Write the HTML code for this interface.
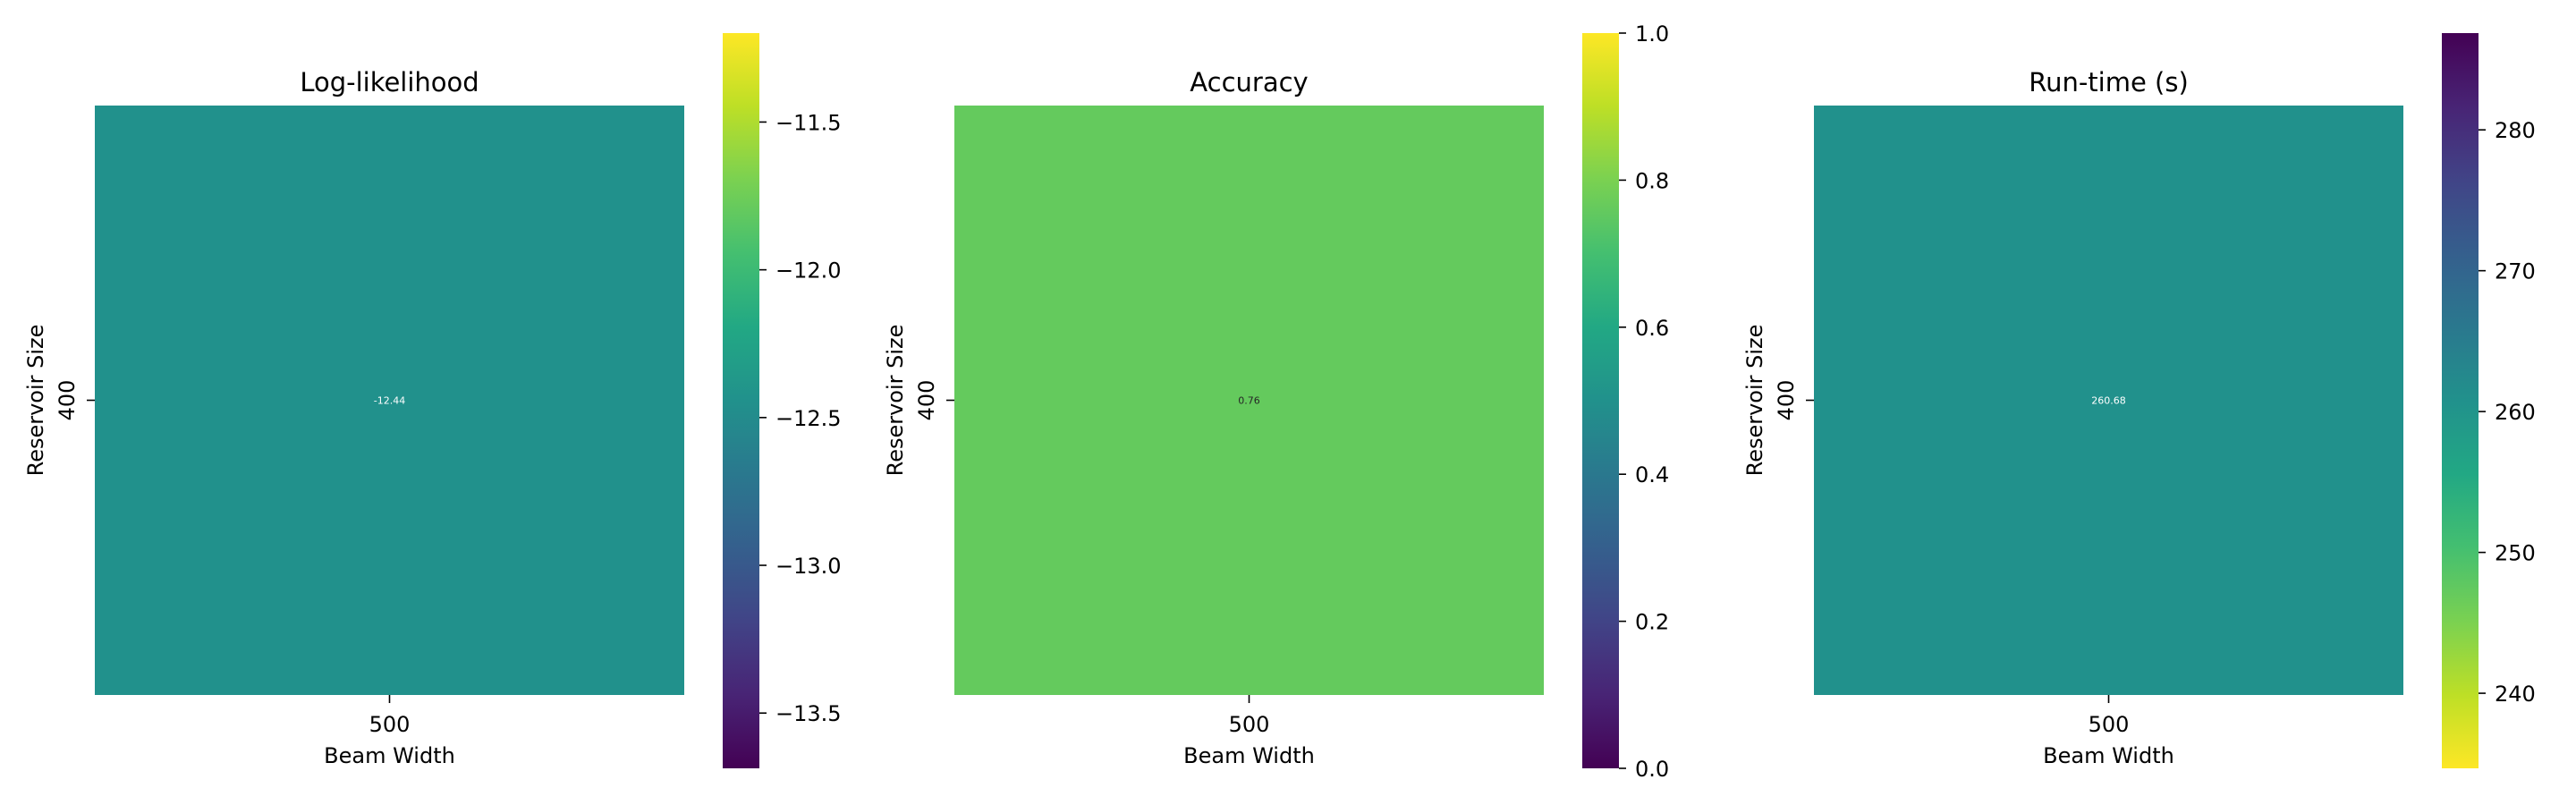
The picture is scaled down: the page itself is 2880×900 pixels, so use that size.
<!DOCTYPE html>
<html><head><meta charset="utf-8">
<style>
html,body{margin:0;padding:0;background:#fff;}
svg{display:block;font-family:"DejaVu Sans","Liberation Sans",sans-serif;}
</style></head>
<body>
<svg id="chart" width="2880" height="900" viewBox="0 0 2880 900" xmlns="http://www.w3.org/2000/svg"></svg>
<script>
const titles = ["Log-likelihood", "Accuracy", "Run-time (s)"];
const xCategories = ["500"];
const yCategories = ["400"];
const cellValues = [-12.44, 0.76, 260.68];
const cellLabels = ["-12.44", "0.76", "260.68"];
const colorMins = [-13.687, 0, 234.67];
const colorMaxs = [-11.199, 1, 286.87];
const reversedMaps = [false, false, true];
const tickValues = [[-11.5, -12.0, -12.5, -13.0, -13.5], [0, 0.2, 0.4, 0.6, 0.8, 1.0], [240, 250, 260, 270, 280]];
const tickLabels = [["\u221211.5", "\u221212.0", "\u221212.5", "\u221213.0", "\u221213.5"], ["0.0", "0.2", "0.4", "0.6", "0.8", "1.0"], ["240", "250", "260", "270", "280"]];
const annotColors = ["#ffffff", "#262626", "#ffffff"];

const VIR = ["#440154","#482475","#414487","#355f8d","#2a788e","#21918c","#22a884","#44bf70","#7ad151","#bddf26","#fde725"];
function hex(c){return [parseInt(c.slice(1,3),16),parseInt(c.slice(3,5),16),parseInt(c.slice(5,7),16)];}
function viridis(t){t=Math.max(0,Math.min(1,t));const p=t*10,i=Math.min(9,Math.floor(p)),f=p-i;const a=hex(VIR[i]),b=hex(VIR[i+1]);return "rgb("+a.map((v,k)=>Math.round(v+(b[k]-v)*f)).join(",")+")";}

const NS="http://www.w3.org/2000/svg";
const svg=document.getElementById("chart");
function mk(tag,attrs,parent){const e=document.createElementNS(NS,tag);for(const k in attrs)e.setAttribute(k,attrs[k]);(parent||svg).appendChild(e);return e;}

const panelLeft=[106,1067,2028], hmSize=659, hmTop=118;
const cbOffset=702, cbW=41, cbTop=37, cbBot=859;
const defs=mk("defs",{});

for(let p=0;p<3;p++){
  const g=mk("g",{});
  
  
  const L=panelLeft[p];
  const xScale=i=>L+hmSize*(i+0.5)/xCategories.length;
  const yScale=i=>hmTop+hmSize*(i+0.5)/yCategories.length;
  const cw=hmSize/xCategories.length, ch=hmSize/yCategories.length;
  const norm=v=>{let t=(v-colorMins[p])/(colorMaxs[p]-colorMins[p]);return reversedMaps[p]?1-t:t;};
  for(let yi=0;yi<yCategories.length;yi++)for(let xi=0;xi<xCategories.length;xi++){
    const r=mk("rect",{x:xScale(xi)-cw/2,y:yScale(yi)-ch/2,width:cw,height:ch,fill:viridis(norm(cellValues[p]))},g);
    
    
    const t=mk("text",{x:xScale(xi),y:yScale(yi)+4,"text-anchor":"middle","font-size":11,fill:annotColors[p]},g);
    t.textContent=cellLabels[p];
    
    
  }
  const ti=mk("text",{x:L+hmSize/2,y:102,"text-anchor":"middle","font-size":29,fill:"#000"},g);
  ti.textContent=titles[p];
  
  
  xCategories.forEach((c,i)=>{
    mk("line",{x1:xScale(i),x2:xScale(i),y1:hmTop+hmSize,y2:hmTop+hmSize+9,stroke:"#000","stroke-width":1.6},g);
    const t=mk("text",{x:xScale(i),y:818,"text-anchor":"middle","font-size":24,fill:"#000"},g);
    t.textContent=c;
    
    
  });
  const xl=mk("text",{x:L+hmSize/2,y:853,"text-anchor":"middle","font-size":24,fill:"#000"},g);
  xl.textContent="Beam Width";
  
  
  yCategories.forEach((c,i)=>{
    mk("line",{x1:L-9,x2:L,y1:yScale(i),y2:yScale(i),stroke:"#000","stroke-width":1.6},g);
    const t=mk("text",{x:0,y:0,"text-anchor":"middle","font-size":24,fill:"#000",transform:"translate("+(L-23)+","+yScale(i)+") rotate(-90)"},g);
    t.textContent=c;
    
    
  });
  const yl=mk("text",{x:0,y:0,"text-anchor":"middle","font-size":24,fill:"#000",transform:"translate("+(L-58)+","+(hmTop+hmSize/2)+") rotate(-90)"},g);
  yl.textContent="Reservoir Size";
  
  
  const grad=mk("linearGradient",{id:"grad"+p,x1:0,y1:1,x2:0,y2:0},defs);
  for(let s=0;s<=20;s++){const t=s/20;mk("stop",{offset:t,"stop-color":viridis(reversedMaps[p]?1-t:t)},grad);}
  const cx=L+cbOffset;
  const cb=mk("rect",{x:cx,y:cbTop,width:cbW,height:cbBot-cbTop,fill:"url(#grad"+p+")"},g);
  
  
  const cScale=v=>cbBot-(v-colorMins[p])/(colorMaxs[p]-colorMins[p])*(cbBot-cbTop);
  tickValues[p].forEach((v,i)=>{
    const y=cScale(v);
    mk("line",{x1:cx+cbW,x2:cx+cbW+8,y1:y,y2:y,stroke:"#000","stroke-width":1.6},g);
    const t=mk("text",{x:cx+cbW+18,y:y+9,"font-size":24,fill:"#000"},g);
    t.textContent=tickLabels[p][i];
    
    
  });
}
</script>
</body></html>
